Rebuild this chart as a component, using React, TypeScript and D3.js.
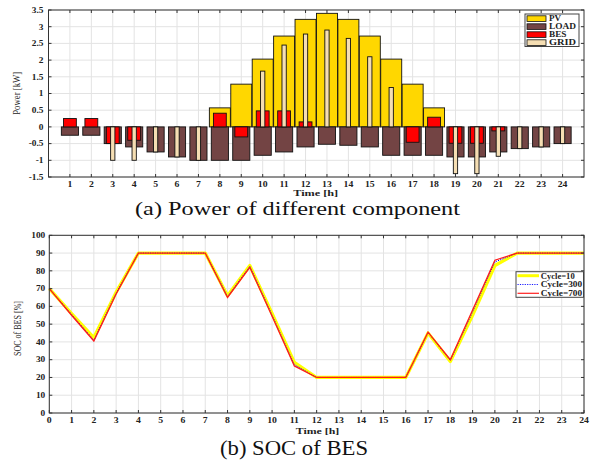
import React from "react";
import * as d3 from "d3";

// Hourly power balance [kW]
const hours = d3.range(1, 25);
const pvPower = [0, 0, 0, 0, 0, 0, 0, 0.57, 1.28, 2.03, 2.72, 3.22, 3.4, 3.22, 2.72, 2.03, 1.28, 0.57, 0, 0, 0, 0, 0, 0];
const loadPower = [-0.25, -0.25, -0.5, -0.6, -0.75, -0.9, -1.0, -1.0, -1.0, -0.85, -0.75, -0.6, -0.52, -0.55, -0.6, -0.85, -0.85, -0.85, -0.9, -0.9, -0.75, -0.65, -0.6, -0.5];
const besPower = [0.25, 0.25, -0.5, -0.4, 0, 0, 0, 0.41, -0.3, 0.48, 0.48, 0.15, 0, 0, 0, 0, -0.46, 0.29, -0.49, -0.49, -0.12, 0, 0, 0];
const gridPower = [0, 0, -1.0, -1.0, -0.75, -0.9, -1.0, 0, 0, 1.67, 2.45, 2.78, 2.9, 2.65, 2.1, 1.18, 0, 0, -1.4, -1.4, -0.88, -0.65, -0.6, -0.5];
const powerTicks = [-1.5, -1, -0.5, 0, 0.5, 1, 1.5, 2, 2.5, 3, 3.5];

// State of charge [%] for each hour 0..24
const socHours = d3.range(0, 25);
const socCycle10 = [70, 56, 42.5, 68, 90, 90, 90, 90, 66, 83, 56, 28.5, 20, 20, 20, 20, 20, 45, 29, 55, 83, 90, 90, 90, 90];
const socCycle300 = [70, 55.5, 41, 67.5, 90, 90, 90, 90, 65.5, 82.5, 55, 27.2, 20, 20, 20, 20, 20, 45.3, 29.6, 57, 85, 90, 90, 90, 90];
const socCycle700 = [70, 55, 40.5, 67, 90, 90, 90, 90, 65, 82, 54.5, 26.5, 20, 20, 20, 20, 20, 45.5, 30, 58, 86, 90, 90, 90, 90];
const socTicks = d3.range(0, 101, 10);

const FONT = "'Liberation Serif', 'Times New Roman', serif";
const AXIS = "#333";
const GRIDC = "#e3e3e3";

const seriesStyle = [
  { name: "PV", fill: "#ffd700", w: 12 },
  { name: "LOAD", fill: "#734444", w: 27 },
  { name: "BES", fill: "#ff0000", w: 17.5 },
  { name: "GRID", fill: "#f5deb3", w: 27 },
];

type STextProps = {
  x: number;
  y: number;
  size: number;
  sx?: number;
  anchor?: "start" | "middle" | "end";
  bold?: boolean;
  children: React.ReactNode;
};

// Text drawn with a horizontal stretch around its anchor point
function SText({ x, y, size, sx = 1, anchor = "start", bold = false, children }: STextProps) {
  return (
    <text
      transform={`translate(${x},${y}) scale(${sx},1)`}
      textAnchor={anchor}
      fontFamily={FONT}
      fontSize={size}
      fontWeight={bold ? "bold" : "normal"}
      fill="#222"
    >
      {children}
    </text>
  );
}

function PowerChart() {
  const left = 48.5, right = 584, top = 10, bottom = 177;
  const x = d3.scaleLinear().domain([0, 25]).range([left, right]);
  const y = d3.scaleLinear().domain([-1.5, 3.5]).range([bottom, top]);
  const u = x(1) - x(0);

  const bars = (vals: number[], w: number, fill: string, key: string) =>
    vals.map((v, i) =>
      v === 0 ? null : (
        <rect
          key={key + i}
          x={x(hours[i]) - (w * u) / 2}
          y={Math.min(y(v), y(0))}
          width={w * u}
          height={Math.abs(y(v) - y(0))}
          fill={fill}
          stroke="#111"
          strokeWidth={0.9}
        />
      )
    );

  return (
    <g>
      {hours.map((h) => (
        <line key={"gv" + h} x1={x(h)} x2={x(h)} y1={top} y2={bottom} stroke={GRIDC} strokeWidth={1} />
      ))}
      {powerTicks.map((t) => (
        <line key={"gh" + t} x1={left} x2={right} y1={y(t)} y2={y(t)} stroke={GRIDC} strokeWidth={1} />
      ))}
      {bars(pvPower, 0.98, seriesStyle[0].fill, "pv")}
      {bars(loadPower, 0.8, seriesStyle[1].fill, "ld")}
      {bars(besPower, 0.6, seriesStyle[2].fill, "bs")}
      {bars(gridPower, 0.2, seriesStyle[3].fill, "gr")}
      <rect x={left} y={top} width={right - left} height={bottom - top} fill="none" stroke={AXIS} strokeWidth={1} />
      {hours.map((h) => (
        <g key={"tx" + h}>
          <line x1={x(h)} x2={x(h)} y1={bottom} y2={bottom - 3} stroke={AXIS} />
          <line x1={x(h)} x2={x(h)} y1={top} y2={top + 3} stroke={AXIS} />
          <SText x={x(h)} y={186.5} size={7.5} sx={1.3} anchor="middle" bold>
            {h}
          </SText>
        </g>
      ))}
      {powerTicks.map((t) => (
        <g key={"ty" + t}>
          <line x1={left} x2={left + 3} y1={y(t)} y2={y(t)} stroke={AXIS} />
          <line x1={right} x2={right - 3} y1={y(t)} y2={y(t)} stroke={AXIS} />
          <SText x={43.5} y={y(t) + 2.8} size={7.5} sx={1.25} anchor="end" bold>
            {t}
          </SText>
        </g>
      ))}
      <text x={315.7} y={196} textAnchor="middle" fontFamily={FONT} fontSize={8} fontWeight="bold" fill="#222" textLength={45} lengthAdjust="spacingAndGlyphs">
        Time [h]
      </text>
      <text transform={`translate(20,93.3) rotate(-90)`} textAnchor="middle" fontFamily={FONT} fontSize={9.5} fill="#222" textLength={43} lengthAdjust="spacingAndGlyphs">
        Power [kW]
      </text>
      {/* legend */}
      <g>
        <rect x={525} y={14} width={54} height={32.5} fill="#fff" stroke="#444" strokeWidth={1} />
        {seriesStyle.map((s, i) => (
          <g key={s.name}>
            <rect x={527} y={15.8 + i * 8} width={19} height={5.6} fill={s.fill} stroke="#111" strokeWidth={0.8} />
            <text x={549} y={21.3 + i * 8} fontFamily={FONT} fontSize={7.5} fontWeight="bold" fill="#222" textLength={s.w} lengthAdjust="spacingAndGlyphs">
              {s.name}
            </text>
          </g>
        ))}
      </g>
      <text x={297.5} y={215} textAnchor="middle" fontFamily={FONT} fontSize={19} fill="#111" textLength={325} lengthAdjust="spacingAndGlyphs">
        (a) Power of different component
      </text>
    </g>
  );
}

function SocChart() {
  const left = 49.3, right = 584, top = 235.3, bottom = 413;
  const x = d3.scaleLinear().domain([0, 24]).range([left, right]);
  const y = d3.scaleLinear().domain([0, 100]).range([bottom, top]);
  const line = d3
    .line<number>()
    .x((_, i) => x(socHours[i]))
    .y((d) => y(d));

  const legendItems = [
    { name: "Cycle=10", color: "#ffff00", width: 3, dash: undefined as string | undefined, w: 34 },
    { name: "Cycle=300", color: "#0000ff", width: 0.9, dash: "1.2 1.2", w: 41.5 },
    { name: "Cycle=700", color: "#ff2020", width: 1.2, dash: undefined, w: 41.5 },
  ];

  return (
    <g>
      {socHours.map((h) => (
        <line key={"gv" + h} x1={x(h)} x2={x(h)} y1={top} y2={bottom} stroke={GRIDC} strokeWidth={1} />
      ))}
      {socTicks.map((t) => (
        <line key={"gh" + t} x1={left} x2={right} y1={y(t)} y2={y(t)} stroke={GRIDC} strokeWidth={1} />
      ))}
      <path d={line(socCycle10) ?? ""} fill="none" stroke="#ffff00" strokeWidth={3.2} strokeLinejoin="round" />
      <path d={line(socCycle300) ?? ""} fill="none" stroke="#0000ff" strokeWidth={1} strokeDasharray="1.2 1.2" />
      <path d={line(socCycle700) ?? ""} fill="none" stroke="#ff1a1a" strokeWidth={1.3} />
      <rect x={left} y={top} width={right - left} height={bottom - top} fill="none" stroke={AXIS} strokeWidth={1} />
      {socHours.map((h) => (
        <g key={"tx" + h}>
          <line x1={x(h)} x2={x(h)} y1={bottom} y2={bottom - 3} stroke={AXIS} />
          <line x1={x(h)} x2={x(h)} y1={top} y2={top + 3} stroke={AXIS} />
          <SText x={x(h)} y={422.7} size={7.5} sx={1.3} anchor="middle" bold>
            {h}
          </SText>
        </g>
      ))}
      {socTicks.map((t) => (
        <g key={"ty" + t}>
          <line x1={left} x2={left + 3} y1={y(t)} y2={y(t)} stroke={AXIS} />
          <line x1={right} x2={right - 3} y1={y(t)} y2={y(t)} stroke={AXIS} />
          <SText x={45.3} y={y(t) + 2.8} size={7.5} sx={1.25} anchor="end" bold>
            {t}
          </SText>
        </g>
      ))}
      <text x={317.5} y={434} textAnchor="middle" fontFamily={FONT} fontSize={8} fontWeight="bold" fill="#222" textLength={43.5} lengthAdjust="spacingAndGlyphs">
        Time [h]
      </text>
      <text transform={`translate(21,328.5) rotate(-90)`} textAnchor="middle" fontFamily={FONT} fontSize={9.5} fill="#222" textLength={55} lengthAdjust="spacingAndGlyphs">
        SOC of BES [%]
      </text>
      <g>
        <rect x={516} y={271.7} width={67.5} height={25.6} fill="#fff" stroke="#444" strokeWidth={1} />
        {legendItems.map((it, i) => (
          <g key={it.name}>
            <line x1={517.5} x2={539} y1={275.7 + i * 8.8} y2={275.7 + i * 8.8} stroke={it.color} strokeWidth={it.width} strokeDasharray={it.dash} />
            <text x={540.7} y={278.6 + i * 8.8} fontFamily={FONT} fontSize={7.5} fontWeight="bold" fill="#222" textLength={it.w} lengthAdjust="spacingAndGlyphs">
              {it.name}
            </text>
          </g>
        ))}
      </g>
      <text x={294} y={454.5} textAnchor="middle" fontFamily={FONT} fontSize={20} fill="#111" textLength={148} lengthAdjust="spacingAndGlyphs">
        (b) SOC of BES
      </text>
    </g>
  );
}

export default function App() {
  return (
    <svg
      width={595}
      height={466}
      viewBox="0 0 595 466"
      style={{ position: "absolute", left: 0, top: 0, background: "#fff" }}
    >
      <rect width={595} height={466} fill="#fff" />
      <PowerChart />
      <SocChart />
    </svg>
  );
}
